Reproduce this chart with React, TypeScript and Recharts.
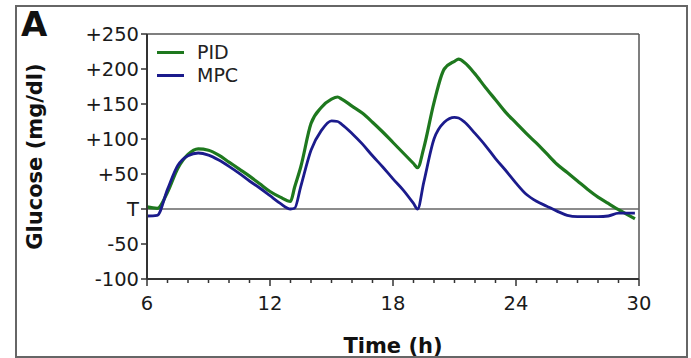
import { LineChart, Line, XAxis, YAxis, ReferenceLine, Legend } from 'recharts';

const hours = [
  6, 6.5, 7, 7.5, 8, 8.5, 9, 9.5, 10, 10.5, 11, 11.5, 12, 12.5, 13, 13.2, 13.5, 14, 14.5, 15, 15.3,
  15.5, 16, 16.5, 17, 17.5, 18, 18.5, 19, 19.2, 19.5, 20, 20.5, 21, 21.2, 21.5, 22, 22.5, 23, 23.5,
  24, 24.5, 25, 25.5, 26, 26.5, 27, 27.5, 28, 28.5, 29, 29.5, 29.8,
];

const pid = [
  3, 1, 24, 58, 78, 86, 84, 77, 67, 57, 47, 36, 25, 17, 11, 31, 60, 122, 145, 157, 160,
  157, 147, 137, 124, 110, 95, 80, 65, 59, 87, 152, 200, 211, 214, 209, 193, 174, 156, 138,
  123, 108, 94, 79, 64, 52, 40, 28, 17, 8, -1, -9, -14,
];

const mpc = [
  -10, -9, 28, 62, 76, 80, 77, 70, 61, 51, 40, 30, 19, 8, 0, 1, 32, 84, 112, 126, 125,
  121, 108, 93, 76, 60, 43, 27, 8, 0, 38, 100, 124, 131, 130, 124, 108, 91, 72, 55,
  37, 21, 11, 4, -3, -9, -11, -11, -11, -10, -6, -6, -6,
];

const timeTicks = [6, 7, 8, 9, 10, 11, 12, 13, 14, 15, 16, 17, 18, 19, 20, 21, 22, 23, 24, 25, 26, 27, 28, 29, 30];
const glucoseTicks = [-100, -50, 0, 50, 100, 150, 200, 250];

const data = hours.map((t, i) => ({ t, pid: pid[i], mpc: mpc[i] }));

const FONT = '"DejaVu Sans", sans-serif';
const GREEN = '#1e781e';
const BLUE = '#1b1b8c';

function TimeTick({ x, y, payload }: any) {
  const major = payload.value % 6 === 0;
  return (
    <g>
      <line x1={x} x2={x} y1={y} y2={y + (major ? 7 : 4)} stroke="#333" strokeWidth={1.5} />
      {major && (
        <text x={x} y={y + 31} textAnchor="middle" fontFamily={FONT} fontSize={19.5} fill="#1a1a1a">
          {payload.value}
        </text>
      )}
    </g>
  );
}

function LegendBox() {
  const rows = [
    { name: 'PID', color: GREEN },
    { name: 'MPC', color: BLUE },
  ];
  return (
    <div>
      {rows.map((r) => (
        <div key={r.name} style={{ display: 'flex', alignItems: 'center', height: 23 }}>
          <span style={{ display: 'inline-block', width: 27, height: 3, background: r.color, marginRight: 13 }} />
          <span style={{ fontFamily: FONT, fontSize: 19, color: '#222', lineHeight: '23px' }}>{r.name}</span>
        </div>
      ))}
    </div>
  );
}

export default function App() {
  return (
    <div style={{ position: 'absolute', left: 0, top: 0, width: 691, height: 358 }}>
      <div
        style={{
          position: 'absolute', left: 15, top: 5, width: 673, height: 353,
          boxSizing: 'border-box', border: '2px solid #666',
        }}
      />
      <div
        style={{
          position: 'absolute', left: 21, top: 4, fontFamily: FONT, fontWeight: 'bold',
          fontSize: 34, color: '#111', lineHeight: '40px',
        }}
      >
        A
      </div>
      <div style={{ position: 'absolute', left: 0, top: 0 }}>
        <LineChart width={691} height={358} data={data} margin={{ top: 34, right: 52, bottom: 5, left: 12 }}>
          <XAxis
            dataKey="t"
            type="number"
            domain={[6, 30]}
            ticks={timeTicks}
            interval={0}
            tickSize={0}
            tickMargin={0}
            tickLine={false}
            tick={<TimeTick />}
            height={74}
            axisLine={{ stroke: '#333', strokeWidth: 2 }}
            label={{
              value: 'Time (h)', position: 'insideBottom', offset: 0,
              style: { fontFamily: FONT, fontWeight: 'bold', fontSize: 21, fill: '#111' },
            }}
          />
          <YAxis
            type="number"
            domain={[-100, 250]}
            ticks={glucoseTicks}
            interval={0}
            width={135}
            tickSize={6}
            tickMargin={2}
            tickFormatter={(v) => (v === 0 ? 'T' : v > 0 ? `+${v}` : `${v}`)}
            tick={{ fontFamily: FONT, fontSize: 19.5, fill: '#1a1a1a' }}
            tickLine={{ stroke: '#333', strokeWidth: 1.5 }}
            axisLine={{ stroke: '#333', strokeWidth: 2 }}
            label={{
              value: 'Glucose (mg/dl)', angle: -90, position: 'insideLeft', offset: 23,
              style: { fontFamily: FONT, fontWeight: 'bold', fontSize: 21, fill: '#111', textAnchor: 'middle' },
            }}
          />
          <ReferenceLine y={250} stroke="#555" strokeWidth={1.5} />
          <ReferenceLine x={30} stroke="#555" strokeWidth={1.5} />
          <ReferenceLine y={0} stroke="#666" strokeWidth={1.5} />
          <Legend
            layout="vertical"
            align="center"
            verticalAlign="middle"
            wrapperStyle={{ left: 157, top: 41, width: 'auto' }}
            content={() => <LegendBox />}
          />
          <Line type="monotone" dataKey="pid" name="PID" stroke={GREEN} strokeWidth={3.2} dot={false} isAnimationActive={false} />
          <Line type="monotone" dataKey="mpc" name="MPC" stroke={BLUE} strokeWidth={2.8} dot={false} isAnimationActive={false} />
        </LineChart>
      </div>
    </div>
  );
}
